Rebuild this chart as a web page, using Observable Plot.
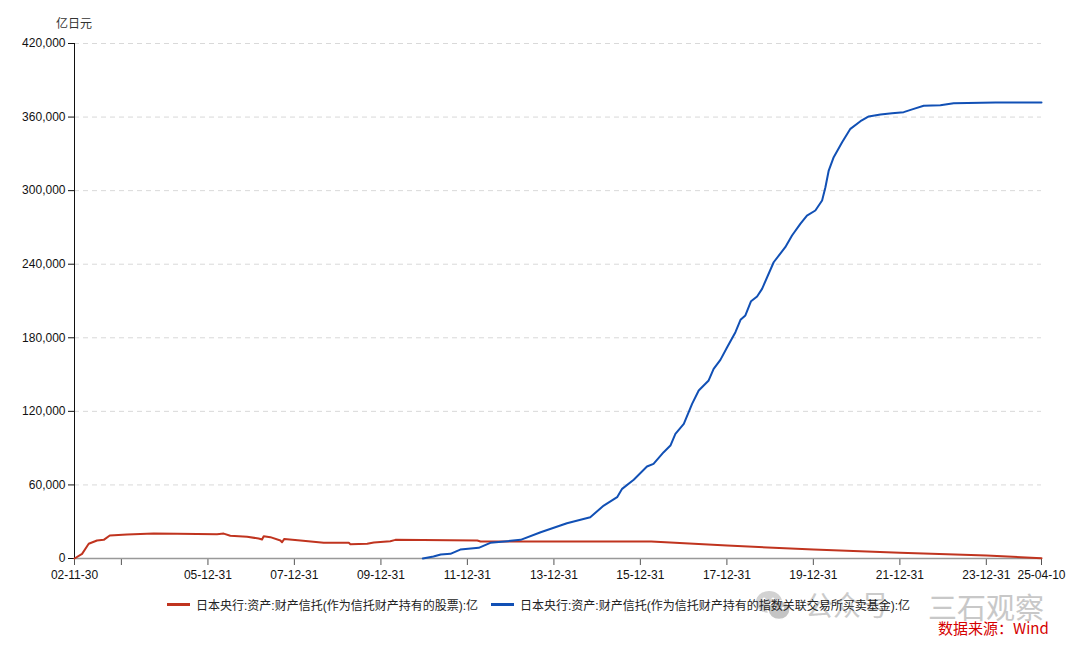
<!DOCTYPE html>
<html>
<head>
<meta charset="utf-8">
<script src="https://cdn.jsdelivr.net/npm/d3@7"></script>
<script src="https://cdn.jsdelivr.net/npm/@observablehq/plot@0.6"></script>
<style>
  html, body { margin: 0; padding: 0; background: #fff; }
  #wrap { position: relative; width: 1080px; height: 649px; overflow: hidden;
    font-family: "Liberation Sans", Arial, "Noto Sans CJK SC", sans-serif; }
  #chart { position: absolute; left: 0; top: 0; }
  #unit { position: absolute; left: 56px; top: 14px; font-size: 12px; color: #333; }
  #legend { position: absolute; left: 167px; top: 596px; font-size: 12px; color: #222; display: flex; align-items: center; white-space: nowrap; }
  .sw { display: inline-block; width: 23px; height: 3px; margin-right: 6px; }
  .item { display: flex; align-items: center; margin-right: 13px; }
  #wm1 { position: absolute; left: 805px; top: 590px; font-size: 28px; line-height: 1; color: #cbcbcb; font-family: "Noto Sans CJK SC", sans-serif; }
  #wm2 { position: absolute; left: 928px; top: 592px; font-size: 29px; line-height: 1; color: #c8c8c8; font-family: "Noto Sans CJK SC", sans-serif; }
  #icon { position: absolute; left: 754px; top: 588px; }
  #src { position: absolute; left: 938px; top: 620px; font-size: 15px; line-height: 1; color: #d50000; font-family: "Noto Sans CJK SC", sans-serif; }
</style>
</head>
<body>
<div id="wrap">
  <div id="chart"></div>
  <div id="unit">亿日元</div>
  <svg id="icon" width="38" height="36" viewBox="0 0 38 36">
    <ellipse cx="15" cy="14" rx="13" ry="11" fill="#d2d2d2"/>
    <ellipse cx="25" cy="22" rx="11" ry="9.5" fill="#c4c4c4" stroke="#fff" stroke-width="1.5"/>
    <circle cx="10" cy="11" r="1.6" fill="#fff"/><circle cx="19" cy="11" r="1.6" fill="#fff"/>
    <circle cx="21" cy="20" r="1.3" fill="#fff"/><circle cx="29" cy="20" r="1.3" fill="#fff"/>
  </svg>
  <div id="wm1">公众号</div>
  <div id="wm2">三石观察</div>
  <div id="legend"></div>
  <div id="src">数据来源：Wind</div>
</div>
<script>
// ---- data ----
const seriesNames = [
  "日本央行:资产:财产信托(作为信托财产持有的股票):亿",
  "日本央行:资产:财产信托(作为信托财产持有的指数关联交易所买卖基金):亿"
];
const seriesColors = ["#c0341f", "#1150b5"];

const stockDates = ["2002-11-30","2003-02-02","2003-03-30","2003-06-08","2003-08-04","2003-09-24","2004-02-17","2004-09-28","2005-04-15","2006-03-18","2006-05-13","2006-07-08","2006-11-27","2007-03-04","2007-04-02","2007-04-16","2007-06-11","2007-09-04","2007-09-18","2007-10-07","2008-02-20","2008-09-04","2009-04-04","2009-04-17","2009-09-06","2009-11-01","2010-03-20","2010-05-02","2012-03-24","2012-04-20","2016-04-01","2018-01-01","2020-01-01","2022-01-01","2024-01-01","2025-04-10"];
const stockValues = [0,3800,12000,14700,15200,18800,19600,20400,20100,19800,20300,18500,17700,16300,15500,18200,17400,14700,13300,16000,14700,12800,12800,11700,12000,13000,14100,15200,14700,13900,13900,10600,7300,4600,2400,300];

const etfDates = ["2010-12-20","2011-03-20","2011-05-20","2011-08-10","2011-11-01","2012-04-05","2012-07-12","2013-03-25","2013-09-10","2014-04-20","2014-11-03","2015-02-25","2015-06-18","2015-07-30","2015-11-05","2016-02-25","2016-04-20","2016-07-15","2016-09-10","2016-10-22","2017-01-01","2017-03-12","2017-05-07","2017-07-30","2017-09-10","2017-11-06","2018-01-02","2018-03-13","2018-04-25","2018-06-05","2018-07-23","2018-09-12","2018-10-24","2019-01-30","2019-05-08","2019-07-04","2019-09-12","2019-11-07","2020-01-17","2020-03-14","2020-04-11","2020-05-09","2020-06-20","2020-08-30","2020-11-08","2021-02-01","2021-04-12","2021-07-20","2021-10-26","2022-02-01","2022-04-27","2022-07-20","2022-12-08","2023-03-30","2024-03-19","2025-04-10"];
const etfValues = [0,1600,3300,3800,7300,8700,12800,15200,21400,28800,33700,43200,50000,56800,64200,75000,77200,86700,92100,101700,109800,126100,137000,145200,154700,162000,172300,184600,194700,198200,209800,213700,219900,241600,253900,263400,272900,279700,283800,292000,302800,316400,327300,339500,350400,356600,360500,362100,363200,364000,366700,369200,369700,371300,371900,371900];

const xTickDates = ["2002-11-30","2003-12-31","2005-12-31","2007-12-31","2009-12-31","2011-12-31","2013-12-31","2015-12-31","2017-12-31","2019-12-31","2021-12-31","2023-12-31","2025-04-10"];
const xTickLabels = ["02-11-30","","05-12-31","07-12-31","09-12-31","11-12-31","13-12-31","15-12-31","17-12-31","19-12-31","21-12-31","23-12-31","25-04-10"];
const yTicks = [0,60000,120000,180000,240000,300000,360000,420000];

// ---- build ----
const stock = stockDates.map((d, i) => ({date: new Date(d), value: stockValues[i]}));
const etf = etfDates.map((d, i) => ({date: new Date(d), value: etfValues[i]}));
const xTicks = xTickDates.map(d => new Date(d));
const labelMap = new Map(xTicks.map((d, i) => [+d, xTickLabels[i]]));
const xDomain = [xTicks[0], xTicks[xTicks.length - 1]];

const chart = Plot.plot({
  width: 1080,
  height: 590,
  marginTop: 43,
  marginLeft: 74,
  marginRight: 39,
  marginBottom: 32,
  style: {fontFamily: '"Liberation Sans", Arial, "Noto Sans CJK SC", sans-serif', fontSize: "12px", color: "#111", background: "#fff"},
  x: {type: "utc", domain: xDomain},
  y: {domain: [0, 420000]},
  marks: [
    Plot.gridY(yTicks.filter(d => d > 0), {stroke: "#d9d9d9", strokeOpacity: 1, strokeDasharray: "5,4"}),
    Plot.axisY(yTicks, {tickFormat: d3.format(","), tickSize: 6, tickPadding: 3, label: null, stroke: "#111", fontSize: 12}),
    Plot.axisX(xTicks, {tickFormat: d => labelMap.get(+d), tickSize: 7, tickPadding: 5, label: null, stroke: "#555", fontSize: 12}),
    Plot.ruleY([0], {stroke: "#999", strokeWidth: 1.5}),
    Plot.ruleX([xDomain[0]], {stroke: "#111", strokeWidth: 1}),
    Plot.lineY(stock, {x: "date", y: "value", stroke: seriesColors[0], strokeWidth: 2}),
    Plot.lineY(etf, {x: "date", y: "value", stroke: seriesColors[1], strokeWidth: 2})
  ]
});
document.getElementById("chart").appendChild(chart);

const legend = document.getElementById("legend");
seriesNames.forEach((n, i) => {
  const it = document.createElement("div");
  it.className = "item";
  it.innerHTML = `<span class="sw" style="background:${seriesColors[i]}"></span><span>${n}</span>`;
  legend.appendChild(it);
});
</script>
</body>
</html>
